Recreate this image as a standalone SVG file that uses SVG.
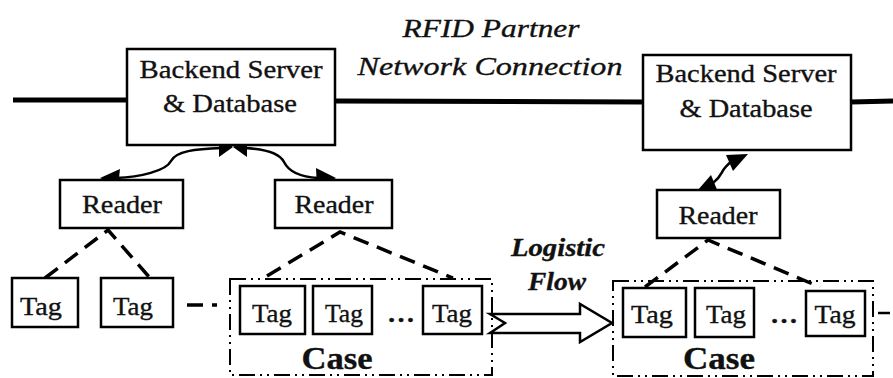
<svg xmlns="http://www.w3.org/2000/svg" width="893" height="378" viewBox="0 0 893 378">
<style>
.box{fill:#fff;stroke:#000;stroke-width:2.5}
.t{font-family:"Liberation Serif","Times New Roman",serif;font-size:26px;fill:#111;stroke:#111;stroke-width:0.35;text-anchor:middle}
.it{font-style:italic}
.b{font-weight:bold}
.big{font-size:32px}
.dash{fill:none;stroke:#000;stroke-width:3.5;stroke-dasharray:16 9}
.case{fill:none;stroke:#000;stroke-width:2;stroke-dasharray:16 5 2 5 2 5}
.net{fill:none;stroke:#000;stroke-width:5}
.curve{fill:none;stroke:#000;stroke-width:2.5}
</style>
<rect width="893" height="378" fill="#fff"/>
<g id="network">
<line class="net" x1="13" y1="100" x2="128" y2="100"/>
<line class="net" x1="335" y1="101" x2="643" y2="102"/>
<line class="net" x1="851" y1="102" x2="893" y2="101"/>
<text class="t it" x="491" y="37" textLength="177" lengthAdjust="spacingAndGlyphs">RFID Partner</text>
<text class="t it" x="490" y="75" textLength="265" lengthAdjust="spacingAndGlyphs">Network Connection</text>
</g>
<g id="connectors">
<path class="curve" d="M222 148 C195 149,176 151,171 161 C166 171,140 177,116 178"/>
<polygon points="100,178 120,169 118,187"/>
<path class="curve" d="M244 148 C268 149,280 154,284 162 C289 172,300 177,318 178"/>
<polygon points="336,178 316,168 317,189"/>
<polygon points="219,137 233,147 219,157"/>
<polygon points="247,137 233,147 247,157"/>
<path class="curve" d="M713 183 C721 177,721 173,724 169 C728 164,728 163,733 161"/>
<polygon points="748,154 726,155 733,171"/>
<polygon points="697,191 711,175 718,192"/>
<polyline class="dash" points="45,278 108,230 150,278"/>
<polyline class="dash" points="267,276 340,232 453,278"/>
<polyline class="dash" points="645,287 708,240 820,287"/>
<line class="dash" x1="187" y1="305" x2="217" y2="305" stroke-dasharray="11 7"/>
<line stroke="#000" stroke-width="2.5" x1="878" y1="313" x2="890" y2="313"/>
</g>
<g id="server1">
<rect class="box" x="127" y="49" width="208" height="96"/>
<text class="t" x="231" y="78" textLength="183" lengthAdjust="spacingAndGlyphs">Backend Server</text>
<text class="t" x="230" y="112" textLength="134" lengthAdjust="spacingAndGlyphs">&amp; Database</text>
</g>
<g id="server2">
<rect class="box" x="643" y="55" width="208" height="95"/>
<text class="t" x="746" y="82" textLength="181" lengthAdjust="spacingAndGlyphs">Backend Server</text>
<text class="t" x="746" y="117" textLength="133" lengthAdjust="spacingAndGlyphs">&amp; Database</text>
</g>
<g id="reader1">
<rect class="box" x="60" y="180" width="123" height="48"/>
<text class="t" x="122" y="213" textLength="80" lengthAdjust="spacingAndGlyphs">Reader</text>
</g>
<g id="reader2">
<rect class="box" x="275" y="180" width="117" height="48"/>
<text class="t" x="334" y="213" textLength="79" lengthAdjust="spacingAndGlyphs">Reader</text>
</g>
<g id="reader3">
<rect class="box" x="657" y="190" width="123" height="48"/>
<text class="t" x="718" y="224" textLength="79" lengthAdjust="spacingAndGlyphs">Reader</text>
</g>
<g id="tag1">
<rect class="box" x="12" y="278" width="66" height="49"/>
<text class="t" x="41" y="315" textLength="42" lengthAdjust="spacingAndGlyphs">Tag</text>
</g>
<g id="tag2">
<rect class="box" x="101" y="278" width="72" height="49"/>
<text class="t" x="133" y="315" textLength="40" lengthAdjust="spacingAndGlyphs">Tag</text>
</g>
<g id="case1">
<rect class="case" x="230" y="279" width="262" height="96"/>
<rect class="box" x="240" y="286" width="65" height="48"/>
<text class="t" x="272" y="322" textLength="40" lengthAdjust="spacingAndGlyphs">Tag</text>
<rect class="box" x="313" y="286" width="59" height="48"/>
<text class="t" x="344" y="322" textLength="38" lengthAdjust="spacingAndGlyphs">Tag</text>
<text class="t b" x="401" y="322" textLength="28" lengthAdjust="spacingAndGlyphs">…</text>
<rect class="box" x="423" y="286" width="59" height="48"/>
<text class="t" x="452" y="322" textLength="40" lengthAdjust="spacingAndGlyphs">Tag</text>
<text class="t b big" x="337" y="369" textLength="71" lengthAdjust="spacingAndGlyphs">Case</text>
</g>
<g id="flow">
<polygon points="490,314 580,314 580,304 612,323 580,342 580,333 490,333 505,323" fill="#fff" stroke="#000" stroke-width="2.5" stroke-linejoin="miter"/>
<text class="t it b" x="558" y="256" textLength="94" lengthAdjust="spacingAndGlyphs">Logistic</text>
<text class="t it b" x="557" y="290" textLength="58" lengthAdjust="spacingAndGlyphs">Flow</text>
</g>
<g id="case2">
<rect class="case" x="613" y="281" width="260" height="95"/>
<rect class="box" x="623" y="288" width="63" height="49"/>
<text class="t" x="652" y="323" textLength="42" lengthAdjust="spacingAndGlyphs">Tag</text>
<rect class="box" x="695" y="288" width="59" height="49"/>
<text class="t" x="726" y="323" textLength="40" lengthAdjust="spacingAndGlyphs">Tag</text>
<text class="t b" x="784" y="323" textLength="28" lengthAdjust="spacingAndGlyphs">…</text>
<rect class="box" x="806" y="291" width="59" height="45"/>
<text class="t" x="835" y="323" textLength="41" lengthAdjust="spacingAndGlyphs">Tag</text>
<text class="t b big" x="719" y="369" textLength="72" lengthAdjust="spacingAndGlyphs">Case</text>
</g>
</svg>
